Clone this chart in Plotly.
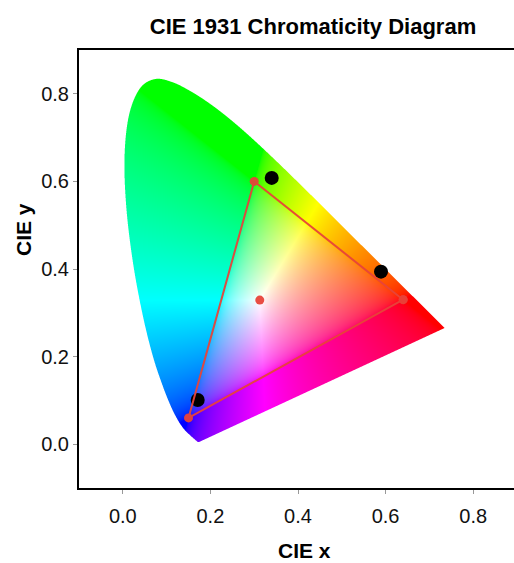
import base64
import struct
import zlib

import numpy as np
import plotly.graph_objects as go

# ---------------- data ----------------
# CIE 1931 2-degree spectral locus (wavelength nm, x, y)
locus_nm = [380, 400, 410, 420, 430, 440, 450, 460, 465, 470, 475, 480, 485, 490,
            495, 500, 505, 510, 515, 520, 525, 530, 535, 540, 545, 550, 555, 560,
            565, 570, 575, 580, 585, 590, 595, 600, 605, 610, 620, 630, 640, 650,
            660, 680, 700]
locus_x = [0.1741, 0.1733, 0.1726, 0.1714, 0.1689, 0.1644, 0.1566, 0.1440, 0.1355,
           0.1241, 0.1096, 0.0913, 0.0687, 0.0454, 0.0235, 0.0082, 0.0039, 0.0139,
           0.0389, 0.0743, 0.1142, 0.1547, 0.1929, 0.2296, 0.2658, 0.3016, 0.3373,
           0.3731, 0.4087, 0.4441, 0.4788, 0.5125, 0.5448, 0.5752, 0.6029, 0.6270,
           0.6482, 0.6658, 0.6915, 0.7079, 0.7190, 0.7260, 0.7300, 0.7334, 0.7347]
locus_y = [0.0050, 0.0048, 0.0048, 0.0051, 0.0069, 0.0109, 0.0177, 0.0297, 0.0399,
           0.0578, 0.0868, 0.1327, 0.2007, 0.2950, 0.4127, 0.5384, 0.6548, 0.7502,
           0.8120, 0.8338, 0.8262, 0.8059, 0.7816, 0.7543, 0.7243, 0.6923, 0.6589,
           0.6245, 0.5896, 0.5547, 0.5202, 0.4866, 0.4544, 0.4242, 0.3965, 0.3725,
           0.3514, 0.3340, 0.3083, 0.2920, 0.2809, 0.2740, 0.2700, 0.2666, 0.2653]

# sRGB gamut primaries (R, G, B) and D65 white point
gamut_x = [0.64, 0.30, 0.15]
gamut_y = [0.33, 0.60, 0.06]
white_x = [0.3127]
white_y = [0.3290]

# measured sample points (black dots)
sample_x = [0.340, 0.5895, 0.171]
sample_y = [0.608, 0.394, 0.101]

x_ticks = [0.0, 0.2, 0.4, 0.6, 0.8]
x_ticktext = ["0.0", "0.2", "0.4", "0.6", "0.8"]
y_ticks = [0.0, 0.2, 0.4, 0.6, 0.8]
y_ticktext = ["0.0", "0.2", "0.4", "0.6", "0.8"]

# ---------------- colour image of the chromaticity region ----------------
STEP = 1.0 / 438.0
X_MIN = -0.1 + 40 * STEP
Y_MIN = -0.1 + 40 * STEP
nx = 340
ny = 380
SS = 4


def smooth_boundary(px, py, k=12):
    """Catmull-Rom rendering of the locus outline (drawing only)."""
    P = np.column_stack([px, py])
    n = len(P)
    out = []
    for i in range(n - 1):
        p0 = P[max(i - 1, 0)]
        p1 = P[i]
        p2 = P[i + 1]
        p3 = P[min(i + 2, n - 1)]
        for t in np.linspace(0, 1, k, endpoint=False):
            t2, t3 = t * t, t * t * t
            pt = 0.5 * ((2 * p1) + (-p0 + p2) * t + (2 * p0 - 5 * p1 + 4 * p2 - p3) * t2
                        + (-p0 + 3 * p1 - 3 * p2 + p3) * t3)
            out.append(pt)
    out.append(P[-1])
    out = np.array(out)
    return out[:, 0], out[:, 1]


vx, vy = smooth_boundary(locus_x, locus_y)


def inside_poly(X, Y, px, py):
    res = np.zeros(X.shape, dtype=bool)
    n = len(px)
    j = n - 1
    for i in range(n):
        xi, yi, xj, yj = px[i], py[i], px[j], py[j]
        if yi != yj:
            cond = ((yi > Y) != (yj > Y)) & (X < (xj - xi) * (Y - yi) / (yj - yi) + xi)
            res ^= cond
        j = i
    return res


sx = X_MIN + (np.arange(nx * SS) + 0.5) * STEP / SS
sy = Y_MIN + (np.arange(ny * SS) + 0.5) * STEP / SS
SX, SY = np.meshgrid(sx, sy)
mask = inside_poly(SX, SY, vx, vy).astype(np.float32)
alpha = mask.reshape(ny, SS, nx, SS).mean(axis=(1, 3))

cx = X_MIN + (np.arange(nx) + 0.5) * STEP
cy = Y_MIN + (np.arange(ny) + 0.5) * STEP
CX, CY = np.meshgrid(cx, cy)
CYs = np.maximum(CY, 1e-3)
Xc = CX / CYs
Yc = np.ones_like(CX)
Zc = (1 - CX - CY) / CYs
M = np.array([[3.2406, -1.5372, -0.4986],
              [-0.9689, 1.8758, 0.0415],
              [0.0557, -0.2040, 1.0570]])
XYZ = np.stack([Xc, Yc, Zc], axis=-1)
RGB = XYZ @ M.T
RGB = np.clip(RGB, 0, None)
RGB = RGB / np.maximum(RGB.max(axis=-1, keepdims=True), 1e-9)
RGB = np.where(RGB <= 0.0031308, 12.92 * RGB, 1.055 * np.power(RGB, 1 / 2.4) - 0.055)
RGB = np.clip(RGB, 0, 1)
rgba = np.zeros((ny, nx, 4), dtype=np.uint8)
rgba[..., :3] = np.round(RGB * 255).astype(np.uint8)
rgba[..., 3] = np.round(alpha * 255).astype(np.uint8)


def png_bytes(arr):
    h, w, _ = arr.shape
    raw = b"".join(b"\x00" + arr[i].tobytes() for i in range(h))

    def chunk(t, d):
        c = struct.pack(">I", len(d)) + t + d
        return c + struct.pack(">I", zlib.crc32(t + d) & 0xFFFFFFFF)

    return (b"\x89PNG\r\n\x1a\n"
            + chunk(b"IHDR", struct.pack(">IIBBBBB", w, h, 8, 6, 0, 0, 0))
            + chunk(b"IDAT", zlib.compress(raw, 9))
            + chunk(b"IEND", b""))


src = "data:image/png;base64," + base64.b64encode(png_bytes(rgba)).decode("ascii")

# ---------------- figure ----------------
RED = "#e8443a"
fig = go.Figure()
fig.add_trace(go.Image(source=src, x0=X_MIN + STEP / 2, dx=STEP,
                       y0=Y_MIN + STEP / 2, dy=STEP, hoverinfo="skip"))
fig.add_trace(go.Scatter(x=sample_x, y=sample_y, mode="markers",
                         marker=dict(color="black", size=14), hoverinfo="skip"))
fig.add_trace(go.Scatter(x=gamut_x + gamut_x[:1], y=gamut_y + gamut_y[:1],
                         mode="lines+markers",
                         line=dict(color=RED, width=2),
                         marker=dict(color=RED, size=9), opacity=0.95))
fig.add_trace(go.Scatter(x=white_x, y=white_y, mode="markers",
                         marker=dict(color=RED, size=9), opacity=0.95))

FONT = "Arial, 'Liberation Sans', sans-serif"
fig.update_layout(
    width=514, height=563,
    margin=dict(l=79, r=0, t=50, b=75),
    plot_bgcolor="white", paper_bgcolor="white",
    showlegend=False,
    font=dict(family=FONT, color="#111"),
    title=dict(text="<b>CIE 1931 Chromaticity Diagram</b>", x=313 / 514, xref="container",
               xanchor="center", y=1 - 26 / 563, yanchor="middle",
               font=dict(size=22, color="black", family=FONT)),
)
fig.update_xaxes(range=[-0.1, -0.1 + 435 * STEP], autorange=False, showgrid=False,
                 zeroline=False,
                 showline=True, linecolor="black", linewidth=2, mirror=True,
                 ticks="outside", ticklen=4, tickcolor="#999", tickwidth=1,
                 tickvals=x_ticks, ticktext=x_ticktext, tickfont=dict(size=20),
                 ticklabelstandoff=5)
fig.update_yaxes(range=[-0.1, -0.1 + 438 * STEP], autorange=False, showgrid=False,
                 zeroline=False,
                 showline=True, linecolor="black", linewidth=2, mirror=False,
                 ticks="outside", ticklen=4, tickcolor="#999", tickwidth=1,
                 tickvals=y_ticks, ticktext=y_ticktext, tickfont=dict(size=20))
fig.add_annotation(text="<b>CIE x</b>", xref="paper", yref="paper",
                   x=(304 - 79) / 435, y=-(550 - 488) / 438,
                   xanchor="center", yanchor="middle", showarrow=False,
                   font=dict(size=21, color="black", family=FONT))
fig.add_annotation(text="<b>CIE y</b>", xref="paper", yref="paper",
                   x=(23 - 79) / 435, y=(488 - 230) / 438, textangle=-90,
                   xanchor="center", yanchor="middle", showarrow=False,
                   font=dict(size=21, color="black", family=FONT))

fig.write_html("out.html")
